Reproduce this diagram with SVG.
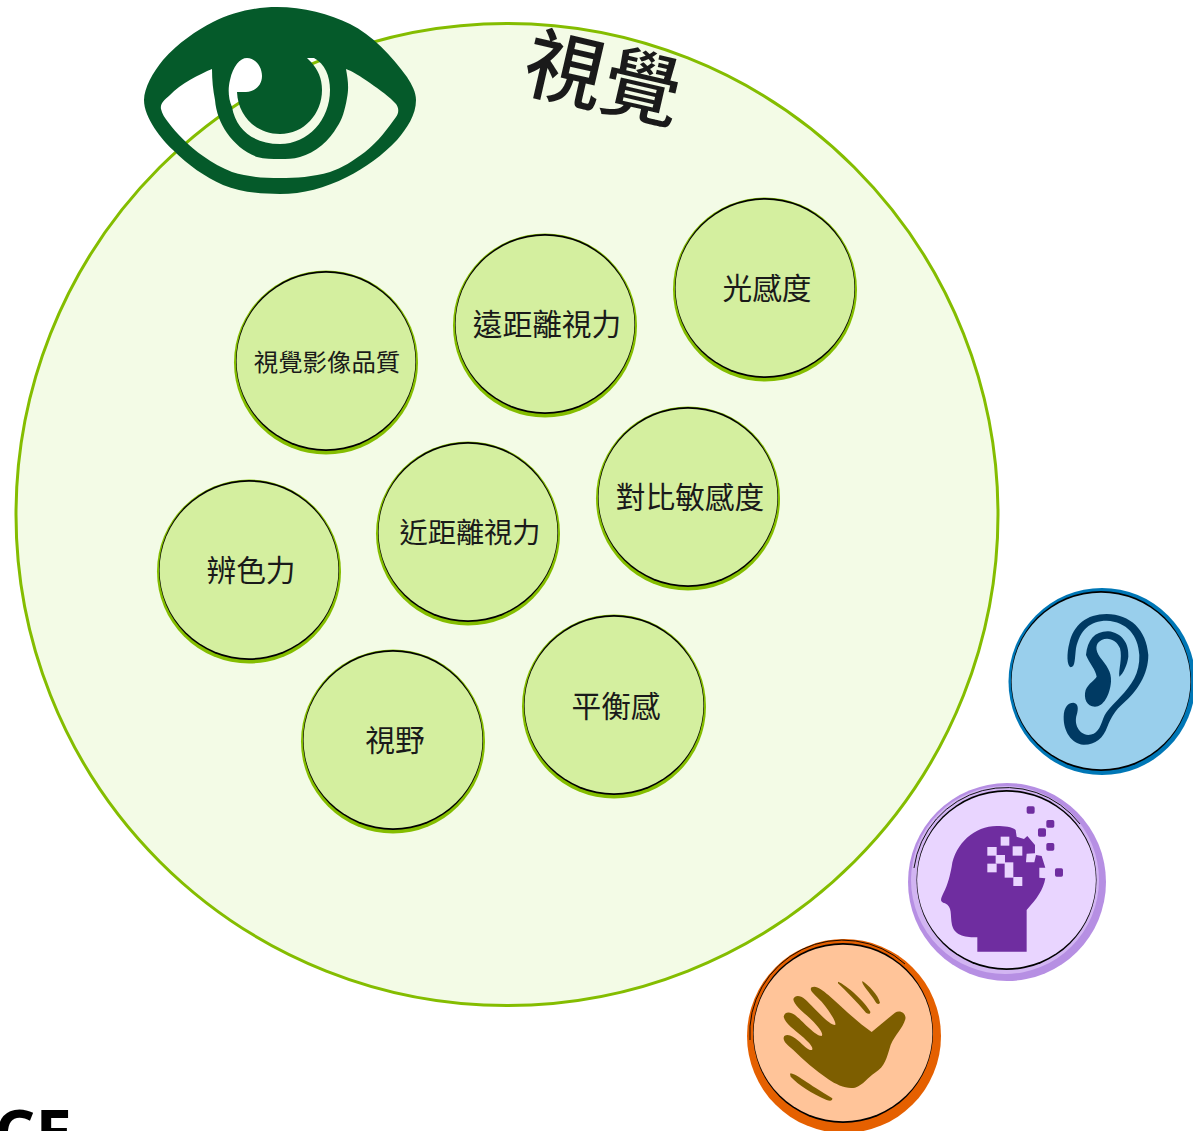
<svg xmlns="http://www.w3.org/2000/svg" width="1193" height="1131" viewBox="0 0 1193 1131">
<style>
text{font-family:"Noto Sans CJK TC","Noto Sans CJK SC",sans-serif;fill:#1a1a1a;text-anchor:middle}
.base{fill:#84BD00}
.ink{fill:#000}
.face{fill:#D4EF9F}
.t30{font-size:29.7px}
.arc{fill:none;stroke:#000;stroke-width:.9}
</style>
<defs>
<g id="bubble">
<circle class="base" cx="0" cy="1.5" r="92"/>
<circle class="ink" cx="0" cy="0" r="90"/>
<ellipse class="face" cx="0" cy="0" rx="89.4" ry="88.2"/>
</g>
</defs>
<g id="vision">
<circle cx="507" cy="514.5" r="491" fill="#F3FBE6" stroke="#84BD00" stroke-width="3"/>
<text transform="translate(603,80) rotate(13)" x="0" y="27" font-size="79" font-weight="500">視覺</text>
<path id="eye" fill="#055A2A" fill-rule="evenodd" d="M144,100C144,88 153,72 163,60C178,43 197,30 213,22C233,12 256,7 277,7C303,7 330,14 350,24C372,35 392,56 407,77C412,85 416,92 416,100C416,115 407,128 397,140C383,155 365,168 347,177C325,188 303,194 280,194C260,194 240,192 223,185C205,177 188,165 173,150C162,140 144,118 144,100ZM212,69C200,74 180,84 170,95C164,100 160,104 161,109C162,114 165,118 168,122C176,133 190,147 203,156C213,163 222,168 232,172C248,177 264,178 280,178C296,178 313,177 330,172C342,168 353,161 365,152C378,142 388,128 396,117C399,113 399,108 396,104C390,97 380,90 370,83C360,76 352,71 346,69C348,80 349,88 347,98C345,110 342,120 337,127C330,140 315,153 300,157C293,159 287,159 280,159C272,159 265,159 257,157C244,152 235,144 227,133C220,123 216,112 215,100C213,90 212,80 212,69ZM307,58L314,58C325,64 330,76 330,90C330,120 308,144 280,144C254,144 236,130 232,107C228,98 228,88 230,80C233,66 240,58 247,58C255,58 262,66 262,76C262,86 254,92 246,92L237,92C238,116 256,134 280,134C304,134 322,114 322,90C322,78 318,70 311,62Z"/>
</g>
<g id="n-light"><use href="#bubble" x="765" y="288"/><text class="t30" x="767" y="299">光感度</text></g>
<g id="n-far"><use href="#bubble" x="545" y="324"/><text class="t30" x="547" y="335">遠距離視力</text></g>
<g id="n-quality"><use href="#bubble" x="326" y="361"/><text x="327" y="371" font-size="24.4">視覺影像品質</text></g>
<g id="n-contrast"><use href="#bubble" x="688" y="497"/><text class="t30" x="690" y="508">對比敏感度</text></g>
<g id="n-near"><use href="#bubble" x="468" y="532"/><text x="470" y="543" font-size="28.2">近距離視力</text></g>
<g id="n-color"><use href="#bubble" x="249" y="570"/><text class="t30" x="251" y="581">辨色力</text></g>
<g id="n-balance"><use href="#bubble" x="614" y="705"/><text class="t30" x="616" y="717">平衡感</text></g>
<g id="n-field"><use href="#bubble" x="393" y="740"/><text class="t30" x="395" y="751">視野</text></g>
<g id="hearing">
<circle cx="1102" cy="681.5" r="93.5" fill="#0077B6"/>
<circle class="ink" cx="1101" cy="681" r="90"/>
<ellipse cx="1101" cy="681" rx="89.4" ry="88.2" fill="#99CFEC"/>
<path transform="translate(1000,580) scale(.3333)" fill="#003A63" fill-rule="evenodd" d="M212,262C200,258 200,220 208,190C220,135 260,102 320,102C390,102 440,150 445,225C445,285 410,335 370,370C345,392 335,410 322,440C310,475 285,495 250,494C215,490 190,455 191,410C192,380 205,368 220,368C235,370 236,385 230,405C222,430 235,463 265,465C290,465 300,445 310,415C320,390 340,375 360,352C395,315 420,280 418,225C415,165 380,125 320,122C270,122 240,150 228,205C224,235 226,262 212,262ZM258,225C262,180 285,153 325,154C365,158 388,190 385,230C382,255 370,280 358,290C355,270 368,235 360,205C350,180 325,170 305,180C285,190 285,210 300,232C320,258 335,275 333,305C330,345 310,380 285,380C260,380 250,355 257,330C265,310 285,300 290,290C288,270 268,250 258,225Z"/>
</g>
<g id="cognition">
<circle cx="1007" cy="882" r="99" fill="#B68FE3"/>
<circle cx="1005" cy="880" r="94" fill="#E9D5FF" opacity=".55"/>
<path class="arc" d="M914,868A93,93 0 0 1 1080,824"/>
<circle class="ink" cx="1006.5" cy="880" r="90"/>
<ellipse cx="1006.5" cy="880" rx="89.4" ry="88.2" fill="#E9D5FF"/>
<g transform="translate(900,775) scale(.3333)" fill="#6F2DA0">
<path d="M290,153C315,153 335,155 347,165L350,185L372,192L382,183L405,210L405,235L380,236L378,262L403,262L408,240L425,243L436,278L418,278L418,308L436,310C430,345 410,372 380,405L380,530L232,530L232,487C200,487 165,485 156,450C150,420 158,395 135,385C118,380 122,372 130,355C145,325 150,300 155,275C165,205 225,153 290,153Z"/>
<g fill="#E9D5FF"><rect x="302" y="185" width="26" height="27"/><rect x="338" y="214" width="29" height="28"/><rect x="262" y="216" width="28" height="26"/><rect x="287" y="240" width="28" height="26"/><rect x="314" y="262" width="26" height="46"/><rect x="340" y="306" width="27" height="27"/><rect x="262" y="266" width="28" height="26"/></g>
<rect x="380" y="94" width="24" height="22" rx="5"/><rect x="439" y="135" width="24" height="23" rx="5"/><rect x="414" y="160" width="24" height="25" rx="5"/><rect x="439" y="204" width="24" height="23" rx="5"/><rect x="465" y="280" width="24" height="25" rx="5"/>
</g>
</g>
<g id="touch">
<circle cx="844" cy="1036" r="97" fill="#E56000"/>
<path class="arc" d="M750,1040A93,93 0 0 1 905,964"/>
<circle class="ink" cx="843" cy="1033" r="90"/>
<ellipse cx="843" cy="1033" rx="89.4" ry="88.2" fill="#FFC499"/>
<g transform="translate(740,930) scale(.3333)" fill="#7D5E00">
<path d="M395,306L465,248C480,238 500,250 496,268C488,295 465,315 452,345C440,385 435,410 405,428C385,440 370,465 345,473C320,478 290,465 265,448C225,420 190,390 160,360C140,345 125,330 133,318C145,310 160,320 175,332C190,345 205,362 216,360C222,352 205,335 185,318C165,300 135,280 131,260C133,245 150,243 165,255C190,275 225,318 245,318C252,310 235,290 215,270C195,250 160,225 160,207C165,195 180,195 195,208C220,230 265,285 285,285C292,280 270,245 245,215C225,195 205,180 215,172C228,165 245,178 265,195C305,230 350,275 395,306Z"/>
<path d="M294,155C320,165 375,215 391,245C392,253 384,253 378,248C350,215 320,185 294,160Z"/>
<path d="M367,153C385,165 415,195 420,218C416,225 410,222 405,213C395,195 375,175 367,158Z"/>
<path d="M150,431C165,428 200,460 277,505C278,513 270,514 260,510C215,490 175,465 152,440Z"/>
</g>
</g>
<text x="33" y="1156" font-size="65" font-weight="700" style="font-family:'Open Sans',sans-serif;fill:#000">CE</text>
</svg>
